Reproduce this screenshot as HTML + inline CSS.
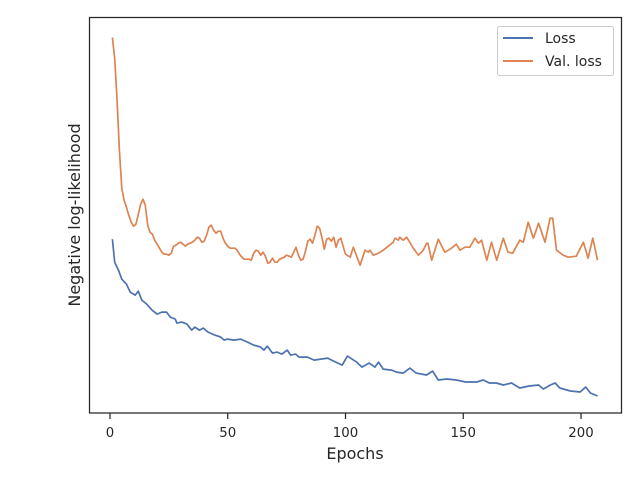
<!DOCTYPE html>
<html><head><meta charset="utf-8"><style>
body{margin:0;background:#fff}
svg text{font-family:"DejaVu Sans","Liberation Sans",sans-serif;fill:#262626}
</style></head><body>
<svg id="chart" width="640" height="480" viewBox="0 0 640 480" xmlns="http://www.w3.org/2000/svg">
<rect x="0" y="0" width="640" height="480" fill="#fff"/>
<g id="plot"></g>
<rect x="89.5" y="17.5" width="532" height="395.5" fill="none" stroke="#262626" stroke-width="1.25"/>
<g id="xticks"></g>
<text x="355" y="459" font-size="16" text-anchor="middle">Epochs</text>
<text transform="translate(80,215) rotate(-90)" font-size="16" text-anchor="middle">Negative log-likelihood</text>
<g>
<rect x="497.5" y="26.5" width="116" height="49" rx="2" fill="#fff" stroke="#ccc"/>
<line x1="503" y1="38" x2="533" y2="38" stroke="#4c72b0" stroke-width="2"/>
<text x="545" y="43" font-size="14">Loss</text>
<line x1="503" y1="61" x2="533" y2="61" stroke="#dd8452" stroke-width="2"/>
<text x="545" y="66" font-size="14">Val. loss</text>
</g>
</svg>
<script>
const lossEpochs=[1,2,3.6,5,7,8.6,10.7,12,13.5,15.6,17.8,20,22,24,25.6,27.7,28.4,30.5,32.6,34.7,36,38,39.6,41.6,44.5,47,48.5,49.9,52.7,55.5,58.4,61,64,65.4,66.8,69,71,73,75.3,76.7,78.8,80.3,83.8,86.7,89.5,92.4,95,98.6,100.8,104.7,107,110,112.5,114,116,119.6,121.7,124.5,127.4,130,134.4,137,139.4,143,147,151,155.7,158.5,161,164,167,170.5,174,178,182,184,187,189,191,195.5,199.6,202,204,207];
const lossValues=[1.74,1.51,1.43,1.34,1.29,1.21,1.18,1.22,1.13,1.09,1.03,0.99,1.01,1.01,0.96,0.94,0.90,0.91,0.89,0.83,0.86,0.83,0.85,0.81,0.78,0.76,0.73,0.74,0.73,0.74,0.71,0.68,0.66,0.63,0.67,0.60,0.61,0.59,0.63,0.58,0.59,0.56,0.56,0.53,0.54,0.55,0.52,0.48,0.57,0.51,0.46,0.50,0.46,0.51,0.44,0.43,0.41,0.40,0.45,0.40,0.38,0.42,0.33,0.34,0.33,0.31,0.31,0.33,0.30,0.30,0.28,0.30,0.25,0.27,0.28,0.24,0.28,0.30,0.25,0.22,0.21,0.26,0.20,0.17];
const valEpochs=[1,2,3,4,5,6,7,8,9,10,11,12,13,14,15,16,17,18,19,20,21,22,23,24,25,26,27,28,29,30,31,32,33,34,35,36,37,38,39,40,41,42,43,44,45,46,47,48,49,50,51,52,53,54,55,56,57,58,59,60,61,62,63,64,65,66,67,68,69,70,71,72,73,74,75,76,77,78,79,80,81,82,83,84,85,86,87,88,89,90,91,92,93,94,95,96,97,98,99,100,102,103.3,106.2,108.3,109.7,110.4,111.8,114,116,120.3,121,122.4,123,124.5,126,128.8,131,133,134.5,135,136.6,139.4,142.2,145,147,148.6,150.7,152.8,155,156.4,157.8,160,162,164.2,167,169,171,174,175.5,177.6,179.8,182,184.7,186.9,188,189.6,192.5,194.6,198,201,203,205,207];
const valValues=[3.76,3.55,3.13,2.63,2.25,2.13,2.06,1.98,1.91,1.87,1.89,1.99,2.09,2.14,2.08,1.88,1.81,1.79,1.73,1.69,1.65,1.61,1.59,1.59,1.58,1.60,1.67,1.68,1.70,1.71,1.69,1.67,1.69,1.70,1.71,1.73,1.76,1.75,1.71,1.72,1.78,1.86,1.88,1.83,1.80,1.82,1.82,1.75,1.70,1.67,1.65,1.65,1.65,1.63,1.59,1.56,1.54,1.54,1.54,1.53,1.60,1.63,1.62,1.58,1.61,1.57,1.50,1.51,1.55,1.51,1.51,1.54,1.55,1.56,1.58,1.57,1.56,1.61,1.66,1.58,1.53,1.54,1.62,1.72,1.74,1.70,1.78,1.87,1.85,1.76,1.64,1.74,1.75,1.72,1.76,1.66,1.73,1.75,1.67,1.59,1.56,1.66,1.48,1.63,1.61,1.63,1.58,1.60,1.63,1.71,1.75,1.73,1.76,1.73,1.76,1.65,1.58,1.63,1.70,1.70,1.53,1.74,1.61,1.65,1.69,1.63,1.66,1.66,1.75,1.70,1.73,1.53,1.71,1.53,1.75,1.61,1.60,1.73,1.71,1.91,1.75,1.90,1.71,1.95,1.95,1.63,1.58,1.56,1.57,1.71,1.55,1.75,1.53];
const xTickValues=[0,50,100,150,200];
const xTickLabels=["0","50","100","150","200"];

const Y0=413,Y1=17.5;
const yMin=0,yMax=3.96;
function xs(v){return 110+(v-0)*(581-110)/200;}
function ys(v){return Y0-(v-yMin)*(Y0-Y1)/(yMax-yMin);}
const NS="http://www.w3.org/2000/svg";
const plot=document.getElementById('plot');
function drawLine(ex,vals,color,name){
  const p=document.createElementNS(NS,'path');
  let d='';
  for(let i=0;i<vals.length;i++){d+=(i?'L':'M')+xs(ex[i]).toFixed(1)+','+ys(vals[i]).toFixed(1);}
  p.setAttribute('d',d);p.setAttribute('fill','none');p.setAttribute('stroke',color);
  p.setAttribute('stroke-width','1.7');p.setAttribute('stroke-linejoin','round');
  
  
  plot.appendChild(p);
}
drawLine(lossEpochs,lossValues,'#4c72b0','loss-line');
drawLine(valEpochs,valValues,'#dd8452','val-loss-line');
const xt=document.getElementById('xticks');
xTickValues.forEach((v,i)=>{
  const l=document.createElementNS(NS,'line');
  l.setAttribute('x1',xs(v));l.setAttribute('x2',xs(v));l.setAttribute('y1',413);l.setAttribute('y2',419);
  l.setAttribute('stroke','#262626');l.setAttribute('stroke-width','1.25');
  
  
  xt.appendChild(l);
  const t=document.createElementNS(NS,'text');
  t.setAttribute('x',xs(v));t.setAttribute('y',437);t.setAttribute('font-size','13.3');t.setAttribute('text-anchor','middle');
  t.textContent=xTickLabels[i];
  
  
  xt.appendChild(t);
});
</script>
</body></html>
